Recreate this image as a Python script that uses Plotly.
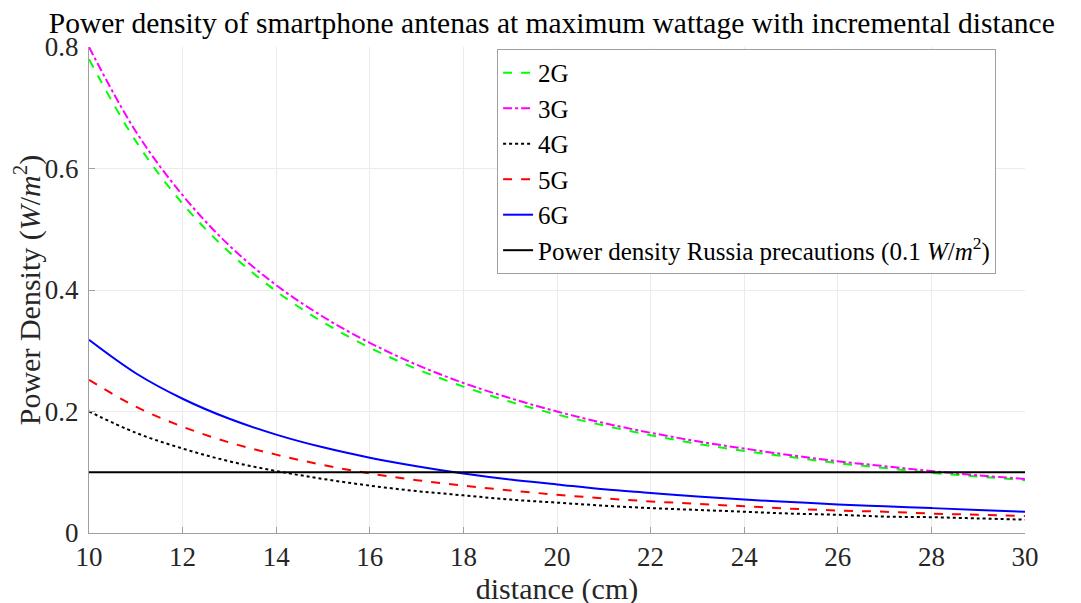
import plotly.graph_objects as go

distance = list(range(10, 31))
p2g = [0.780,0.645,0.542,0.462,0.398,0.347,0.305,0.270,0.241,0.216,0.195,0.177,0.161,0.147,0.135,0.125,0.115,0.107,0.099,0.093,0.087]
p3g = [0.800,0.661,0.556,0.473,0.408,0.356,0.313,0.277,0.247,0.222,0.200,0.181,0.165,0.151,0.139,0.128,0.118,0.110,0.102,0.095,0.089]
p4g = [0.200,0.165,0.139,0.118,0.102,0.089,0.078,0.069,0.062,0.055,0.050,0.045,0.041,0.038,0.035,0.032,0.030,0.027,0.026,0.024,0.022]
p5g = [0.252,0.208,0.175,0.149,0.129,0.112,0.098,0.087,0.078,0.070,0.063,0.057,0.052,0.048,0.044,0.040,0.037,0.035,0.032,0.030,0.028]
p6g = [0.318,0.263,0.221,0.188,0.162,0.141,0.124,0.110,0.098,0.088,0.080,0.072,0.066,0.060,0.055,0.051,0.047,0.044,0.041,0.038,0.035]
limit_x = [10, 30]
limit_y = [0.1, 0.1]
x_ticks = list(range(10, 31, 2))
y_ticks = [0, 0.2, 0.4, 0.6, 0.8]
y_tick_text = ["0", "0.2", "0.4", "0.6", "0.8"]

FONT = "Liberation Serif"

series = [
    ("2G", p2g, "#00ff00", "dash"),
    ("3G", p3g, "#ff00ff", "dashdot"),
    ("4G", p4g, "#000000", "dot"),
    ("5G", p5g, "#ff0000", "dash"),
    ("6G", p6g, "#0000ff", "solid"),
]

fig = go.Figure()
for name, vals, col, dash in series:
    fig.add_trace(go.Scatter(x=distance, y=vals, mode="lines", name=name,
                             line=dict(color=col, dash=dash, width=2, shape="spline")))
fig.add_trace(go.Scatter(x=limit_x, y=limit_y, mode="lines",
                         name="Power density Russia precautions (0.1 <i>W</i>/<i>m</i><sup>2</sup>)",
                         line=dict(color="#000000", width=2)))

# page body adds an 8px offset, compensated in the margins
fig.update_layout(
    width=1081, height=603,
    margin=dict(l=81, r=64, t=39, b=78, autoexpand=False),
    paper_bgcolor="white", plot_bgcolor="white",
    font=dict(family=FONT, color="#262626", size=27),
    title=dict(text="Power density of smartphone antenas at maximum wattage with incremental distance",
               x=0.503, xanchor="center", y=0.976, yanchor="middle",
               font=dict(family=FONT, size=29.5, color="#000000")),
    legend=dict(x=0.436, y=0.996, xanchor="left", yanchor="top",
                bordercolor="#a0a0a0", borderwidth=1, bgcolor="white",
                font=dict(family=FONT, size=25, color="#000000"),
                tracegroupgap=0, itemwidth=30),
    showlegend=True,
)
fig.update_xaxes(range=[10, 30], tickvals=x_ticks, automargin=False,
                 showgrid=True, gridcolor="#ebebeb", gridwidth=1, zeroline=False,
                 showline=True, linecolor="#a0a0a0", linewidth=1, mirror=False,
                 ticks="inside", ticklen=6, tickcolor="#a0a0a0", ticklabelstandoff=0,
                 tickfont=dict(size=27, color="#262626"),
                 title=dict(text="distance (cm)", font=dict(size=30, color="#262626"), standoff=2))
fig.update_yaxes(range=[0, 0.8], tickvals=y_ticks, ticktext=y_tick_text, automargin=False,
                 showgrid=True, gridcolor="#ebebeb", gridwidth=1, zeroline=False,
                 showline=True, linecolor="#a0a0a0", linewidth=1, mirror=False,
                 ticks="inside", ticklen=6, tickcolor="#a0a0a0", ticklabelstandoff=4,
                 tickfont=dict(size=27, color="#262626"),
                 title=dict(text="Power Density (<i>W</i>/<i>m</i><sup>2</sup>)", font=dict(size=30, color="#262626"), standoff=6))

fig.write_html("out.html")
